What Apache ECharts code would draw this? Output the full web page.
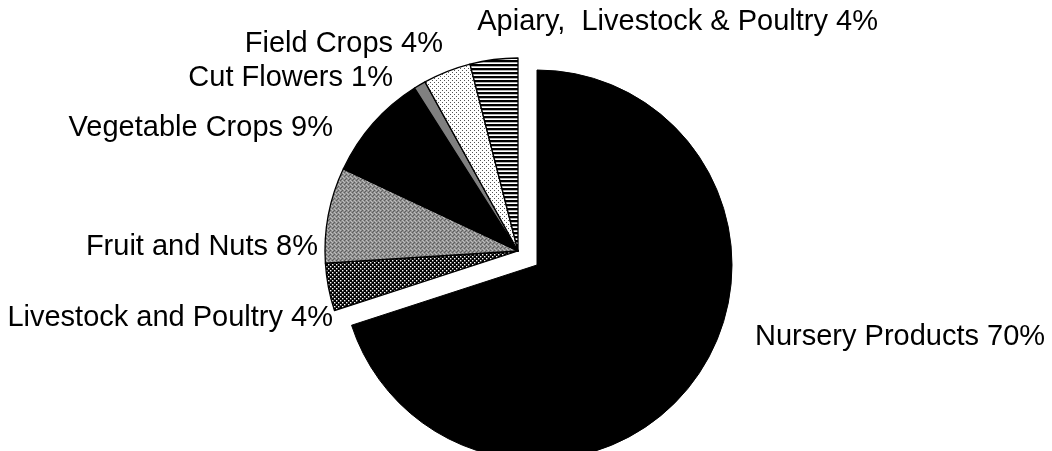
<!DOCTYPE html>
<html>
<head>
<meta charset="utf-8">
<script src="https://cdn.jsdelivr.net/npm/echarts@6/dist/echarts.min.js"></script>
<style>
html,body{margin:0;padding:0;background:#fff;}
#chart{width:1052px;height:451px;}
</style>
</head>
<body>
<div id="chart"></div>
<script>
// ---- data ----
const mainCategory = 'Nursery Products';
const mainValue = 70;
const otherCategories = ['Livestock and Poultry', 'Fruit and Nuts', 'Vegetable Crops', 'Cut Flowers', 'Field Crops', 'Apiary,  Livestock & Poultry'];
const otherValues = [4, 8, 9, 1, 4, 4];

// ---- label placement (x, y, align) ----
const mainLabelPos = { x: 755, y: 337, align: 'left' };
const otherLabelPos = [
  { x: 333, y: 318, align: 'right' },
  { x: 318, y: 247, align: 'right' },
  { x: 333, y: 128, align: 'right' },
  { x: 393, y: 78, align: 'right' },
  { x: 443, y: 44, align: 'right' },
  { x: 878, y: 22, align: 'right' }
];

// ---- fill patterns ----
function makePattern(w, h, draw) {
  const c = document.createElement('canvas');
  c.width = w; c.height = h;
  const ctx = c.getContext('2d');
  draw(ctx);
  return { image: c, repeat: 'repeat' };
}
const darkDots = makePattern(4, 4, ctx => {
  ctx.fillStyle = '#000'; ctx.fillRect(0, 0, 4, 4);
  ctx.fillStyle = '#fff';
  ctx.fillRect(0, 0, 1.4, 1.4);
  ctx.fillRect(2, 2, 1.4, 1.4);
});
const grayMottle = makePattern(4, 4, ctx => {
  ctx.fillStyle = '#909090'; ctx.fillRect(0, 0, 4, 4);
  ctx.fillStyle = '#5e5e5e';
  ctx.fillRect(0, 0, 1, 1); ctx.fillRect(2, 2, 1, 1); ctx.fillRect(1, 3, 1, 1);
  ctx.fillStyle = '#bdbdbd';
  ctx.fillRect(2, 0, 1, 1); ctx.fillRect(0, 2, 1, 1); ctx.fillRect(3, 1, 1, 1);
});
const lightDots = makePattern(4, 4, ctx => {
  ctx.fillStyle = '#fff'; ctx.fillRect(0, 0, 4, 4);
  ctx.fillStyle = '#555';
  ctx.fillRect(0, 0, 1, 1);
  ctx.fillRect(2, 2, 1, 1);
});
const hStripes = makePattern(4, 4, ctx => {
  ctx.fillStyle = '#fff'; ctx.fillRect(0, 0, 4, 4);
  ctx.fillStyle = '#000'; ctx.fillRect(0, 0, 4, 2.3);
});
const otherFills = [darkDots, grayMottle, '#000', '#808080', lightDots, hStripes];

const FONT = '"Liberation Sans", Arial, Helvetica, sans-serif';
const FONT_SIZE = 29;
const hidden = { value: 0, itemStyle: { color: 'rgba(0,0,0,0)', borderWidth: 0 }, label: { show: false }, labelLine: { show: false } };

const chart = echarts.init(document.getElementById('chart'), null, { renderer: 'canvas' });
chart.setOption({
  backgroundColor: '#fff',
  animation: false,
  series: [
    {
      type: 'pie',
      silent: true,
      center: [537, 265],
      radius: 195,
      startAngle: 90,
      clockwise: true,
      avoidLabelOverlap: false,
      label: { show: true, formatter: '{b} {c}%', fontFamily: FONT, fontSize: FONT_SIZE, color: '#000' },
      labelLine: { show: false },
      labelLayout: p => p.dataIndex === 0 ? { x: mainLabelPos.x, y: mainLabelPos.y, align: mainLabelPos.align, verticalAlign: 'middle' } : {},
      itemStyle: { borderColor: '#000', borderWidth: 1 },
      data: [
        { value: mainValue, name: mainCategory, itemStyle: { color: '#000' } },
        Object.assign({}, hidden, { value: otherValues.reduce((a, b) => a + b, 0), name: '' })
      ]
    },
    {
      type: 'pie',
      silent: true,
      center: [518, 251],
      radius: 193,
      startAngle: 90,
      clockwise: true,
      avoidLabelOverlap: false,
      label: { show: true, formatter: '{b} {c}%', fontFamily: FONT, fontSize: FONT_SIZE, color: '#000' },
      labelLine: { show: false },
      labelLayout: p => {
        const i = p.dataIndex - 1;
        if (i < 0) return {};
        const lp = otherLabelPos[i];
        return { x: lp.x, y: lp.y, align: lp.align, verticalAlign: 'middle' };
      },
      itemStyle: { borderColor: '#000', borderWidth: 1.3 },
      data: [Object.assign({}, hidden, { value: mainValue, name: ' ' })].concat(
        otherCategories.map((n, i) => ({ value: otherValues[i], name: n, itemStyle: { color: otherFills[i] } }))
      )
    }
  ]
});
</script>
</body>
</html>
